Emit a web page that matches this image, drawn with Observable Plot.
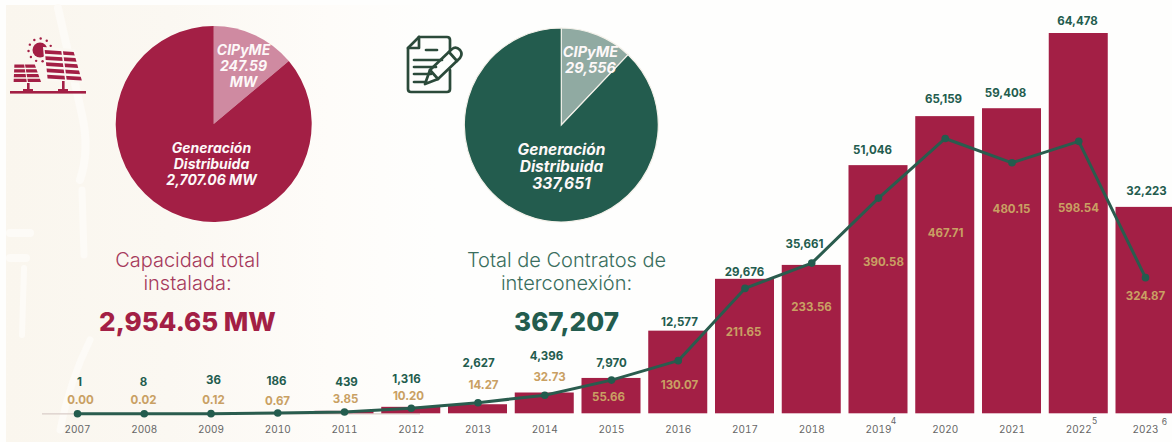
<!DOCTYPE html>
<html>
<head>
<meta charset="utf-8">
<script src="https://cdn.jsdelivr.net/npm/d3@7"></script>
<script src="https://cdn.jsdelivr.net/npm/@observablehq/plot@0.6"></script>
<style>
html,body{margin:0;padding:0;background:#fefefd;overflow:hidden}
svg{display:block}
</style>
</head>
<body>
<div id="chart"></div>
<script>
// ---------- data ----------
const years = [2007,2008,2009,2010,2011,2012,2013,2014,2015,2016,2017,2018,2019,2020,2021,2022,2023];
const capacityMW = [0.00,0.02,0.12,0.67,3.85,10.20,14.27,32.73,55.66,130.07,211.65,233.56,390.58,467.71,480.15,598.54,324.87];
const contracts = [1,8,36,186,439,1316,2627,4396,7970,12577,29676,35661,51046,65159,59408,64478,32223];
const superscripts = ["4","5","6"];

const pieCapacityLabels = ["CIPyME\n247.59\nMW","Generación\nDistribuida\n2,707.06 MW"];
const pieContractLabels = ["CIPyME\n29,556","Generación\nDistribuida\n337,651"];
// slice sizes as drawn in the picture (share of the whole circle)
const pieCapacityShares = [0.139,0.861];
const pieContractShares = [0.121,0.879];

const capacityTitle = "Capacidad total\ninstalada:";
const capacityTotal = "2,954.65 MW";
const contractsTitle = "Total de Contratos de\ninterconexión:";
const contractsTotal = "367,207";

// ---------- layout ----------
const W = 1172, H = 442;
const x0 = 77, x1 = 1145, yBase = 413.3, yTop = 33;
const mwMax = 598.54;
const contractToMW = 0.00665;           // the line is drawn on a rescaled second measure
const barHalf = 0.442;
const X = px => years[0] + (px - x0) / (x1 - x0) * (years[16] - years[0]);
const Y = py => (yBase - py) / (yBase - yTop) * mwMax;

const contractLabelX = [79,143,213,276,346,406,478,546,611,679,744,804,872,943,1005,1077,1146];
const contractLabelY = [382,382,380,381,382,379,363,356,363,322,272,244,150,99,93,21,191];
const capacityLabelX = [80,143,213,277,345,408,483,549,608,679,743,811,883,945,1011,1078,1145];
const capacityLabelY = [400,400,400,401,399,396,385,377,397,385,332,307,262,233,209,208,296];
const superscriptX = [893,1094,1164];
const superscriptY = [421,421,422];

const RED="#a31f45", GREEN="#235c4e", GOLD="#c9a063";
const FONT = "Inter, 'Open Sans', sans-serif";

const rows = years.map((year,i)=>({
  year, mw:capacityMW[i], c:contracts[i],
  cx:contractLabelX[i], cy:contractLabelY[i],
  mx:capacityLabelX[i], my:capacityLabelY[i]
}));

// draws pies from shares with d3.pie and d3.arc
function pieMark(shares, colors, cx, cy, r, stroke){
  return () => {
    const g = d3.create("svg:g").attr("transform",`translate(${cx},${cy})`);
    const arcs = d3.pie().sort(null)(shares);
    g.selectAll("path").data(arcs).join("path")
      .attr("d", d3.arc().innerRadius(0).outerRadius(r))
      .attr("fill",(d,i)=>colors[i])
      .attr("stroke",stroke).attr("stroke-width",stroke==="none"?0:1.2);
    return g.node();
  };
}

function rawMark(markup){
  return () => {
    const g = document.createElementNS("http://www.w3.org/2000/svg","g");
    g.innerHTML = markup;
    return g;
  };
}

// solar panel cells: quad split in rows and columns with small gaps
function panel(tl,tr,br,bl,nr,nc){
  const lerp=(a,b,t)=>[a[0]+(b[0]-a[0])*t,a[1]+(b[1]-a[1])*t];
  const pt=(u,v)=>lerp(lerp(tl,tr,u),lerp(bl,br,u),v);
  let s="";
  for(let r=0;r<nr;r++)for(let c=0;c<nc;c++){
    const u0=c/nc+0.02,u1=(c+1)/nc-0.02,v0=r/nr+0.03,v1=(r+1)/nr-0.05;
    s+=`<polygon points="${[pt(u0,v0),pt(u1,v0),pt(u1,v1),pt(u0,v1)].map(p=>p.join(",")).join(" ")}"/>`;
  }
  return s;
}

const solarIcon = `
<g fill="${RED}">
  <circle cx="40" cy="50" r="7.5"/>
  ${d3.range(11).map(i=>{const a=(i/11)*2*Math.PI+0.2;return `<circle cx="${40+11.5*Math.cos(a)}" cy="${50+11.5*Math.sin(a)}" r="1.2"/>`}).join("")}
  <path d="M43 47 L75 49 L84 83 L46 81 Z" fill="#fbf8f2"/>
  ${panel([44,49],[74,51],[83,82],[47,80],5,1)}
  <path d="M62 50 L66 81" stroke="#fbf8f2" stroke-width="1.6"/>
  ${panel([14,64],[35,64],[42,83],[13,83],4,2)}
  <rect x="10" y="91" width="76" height="2.6"/>
  <rect x="27" y="83" width="2.6" height="8"/>
  <rect x="23" y="89" width="10" height="2"/>
  <rect x="62" y="81" width="2.6" height="10"/>
  <rect x="58" y="89" width="10" height="2"/>
</g>`;

const docIcon = `
<g fill="none" stroke="#2b4a3a" stroke-width="2.7" stroke-linejoin="round" stroke-linecap="round">
  <path d="M419 37 L447 37 Q450 37 450 40 L450 50"/>
  <path d="M419 37 L408 48 L408 89 Q408 92 411 92 L447 92 Q450 92 450 89 L450 70"/>
  <path d="M419 37 L419 48 L408 48"/>
  <path d="M426 50 L437 50"/>
  <path d="M414 60 L442 60"/>
  <path d="M414 67 L436 67"/>
  <path d="M414 74 L431 74"/>
  <path d="M414 82 L426 82"/>
  <path d="M425 84 L430 70 L452 49 Q456 46 460 50 Q463 54 460 58 L438 79 Z"/>
  <path d="M430 70 L438 79"/>
  <path d="M449 52 L457 61"/>
</g>`;

// soft decorative background
const bgShapes = `
<defs><linearGradient id="bgfade" x1="0" x2="1" y1="0" y2="0">
  <stop offset="0" stop-color="#faf6ee"/>
  <stop offset="0.38" stop-color="#fbf8f2"/>
  <stop offset="0.75" stop-color="#fefcf9"/>
  <stop offset="1" stop-color="#fefefd"/>
</linearGradient></defs>
<rect x="6" y="5" width="430" height="437" fill="url(#bgfade)"/>
<g fill="none" stroke="#fdfbf7" stroke-linecap="round">
  <path d="M58 8 Q70 60 82 115 Q90 150 80 180" stroke-width="8"/>
  <path d="M82 190 L84 255" stroke-width="7"/>
  <path d="M10 233 L30 233 M10 258 L26 258" stroke-width="8"/>
  <path d="M24 268 L22 335" stroke-width="6"/>
  <path d="M90 340 Q70 380 60 430" stroke-width="7"/>
</g>`;

const plot = Plot.plot({
  width:W, height:H,
  margin:0,
  style:{background:"transparent", fontFamily:FONT, overflow:"hidden"},
  x:{type:"linear", domain:[years[0],years[16]], range:[x0,x1], axis:null},
  y:{type:"linear", domain:[0,mwMax], range:[yBase,yTop], axis:null},
  marks:[
    rawMark(bgShapes),
    Plot.ruleY([0],{x1:X(42),x2:X(420),stroke:"#d9cdc8",strokeWidth:1.2}),
    Plot.rectY(rows,{x1:d=>d.year-barHalf,x2:d=>d.year+barHalf,y1:0,y2:"mw",fill:RED}),
    Plot.line(rows,{x:"year",y:d=>d.c*contractToMW,stroke:"#2a5c4e",strokeWidth:3,curve:"linear"}),
    Plot.dot(rows,{x:"year",y:d=>d.c*contractToMW,r:3.8,fill:"#235c4e"}),
    Plot.text(rows,{x:d=>X(d.cx),y:d=>Y(d.cy),text:d=>d3.format(",")(d.c),fill:GREEN,fontSize:11.5,fontWeight:700}),
    Plot.text(rows,{x:d=>X(d.mx),y:d=>Y(d.my),text:d=>d.mw.toFixed(2),fill:GOLD,fontSize:11.5,fontWeight:700}),
    // year ticks
    Plot.axisX({ticks:years,tickSize:0,tickFormat:d=>String(d),tickPadding:0,anchor:"bottom",
      y:Y(429),fontSize:10,label:null,textAnchor:"middle",lineAnchor:"middle",fill:"#666"}),
    Plot.text(superscripts,{x:(d,i)=>X(superscriptX[i]),y:(d,i)=>Y(superscriptY[i]),text:d=>d,fontSize:8.5,fill:"#666"}),
    // pies
    pieMark(pieCapacityShares,["#cf8aa1",RED],213.7,124,98,"none"),
    pieMark(pieContractShares,["#90aaa2",GREEN],561.3,125,97,"#f4f1ea"),
    Plot.text(pieCapacityLabels,{x:[X(243),X(211)],y:[Y(65),Y(163)],text:d=>d,fill:"#fdf8f8",fontSize:14,fontWeight:700,fontStyle:"italic",lineHeight:1.15}),
    Plot.text([pieContractLabels[0]],{x:X(590),y:Y(59),text:d=>d,fill:"#fdf8f8",fontSize:14.5,fontWeight:700,fontStyle:"italic",lineHeight:1.1}),
    Plot.text([pieContractLabels[1]],{x:X(561),y:Y(166),text:d=>d,fill:"#fdf8f8",fontSize:15.5,fontWeight:700,fontStyle:"italic",lineHeight:1.1}),
    // totals
    Plot.text([capacityTitle],{x:X(187),y:Y(270.5),text:d=>d,fill:"#a63a5c",fontSize:20,fontWeight:300,lineHeight:1.15}),
    Plot.text([capacityTotal],{x:X(187),y:Y(322),text:d=>d,fill:RED,fontSize:26,fontWeight:800}),
    Plot.text([contractsTitle],{x:X(566),y:Y(270.5),text:d=>d,fill:"#3a6e5e",fontSize:20,fontWeight:300,lineHeight:1.15}),
    Plot.text([contractsTotal],{x:X(566),y:Y(322),text:d=>d,fill:GREEN,fontSize:26,fontWeight:800}),
    rawMark(solarIcon),
    rawMark(docIcon)
  ]
});
document.getElementById("chart").appendChild(plot);
</script>
</body>
</html>
